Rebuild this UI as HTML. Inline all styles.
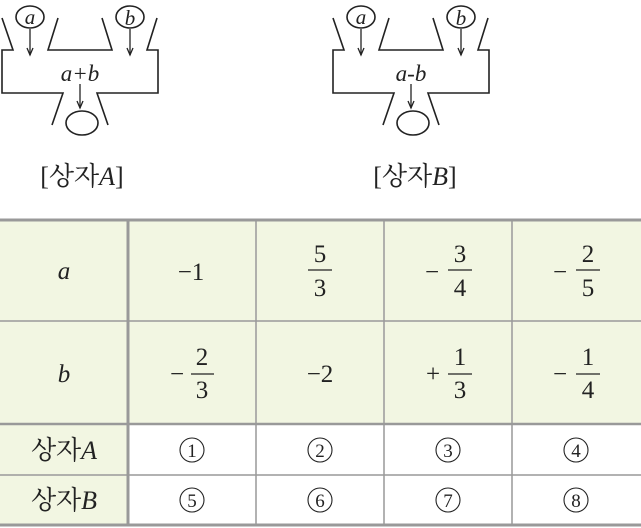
<!DOCTYPE html>
<html><head><meta charset="utf-8"><style>
html,body{margin:0;padding:0;background:#fff;}
svg{display:block;}
</style></head><body>
<svg width="641" height="528" viewBox="0 0 641 528" xmlns="http://www.w3.org/2000/svg" font-family="'Liberation Serif', 'Noto Serif CJK KR', serif" fill="#222">
<defs>
<g id="box" fill="none" stroke="#222" stroke-width="1.6">
<path d="M2,18 L13,50 L2,50 L2,93 L63,93 L52,125"/>
<path d="M58,18 L48,50 L112,50 L102,18"/>
<path d="M157,18 L147,50 L158,50 L158,93 L97,93 L108,125"/>
<ellipse cx="30" cy="17" rx="14" ry="11"/>
<ellipse cx="130" cy="17" rx="14" ry="11"/>
<ellipse cx="82" cy="123" rx="16" ry="12"/>
<g stroke-width="1.3">
<line x1="30" y1="29" x2="30" y2="55"/><path d="M27,48 L30,55 L33,48"/>
<line x1="130" y1="29" x2="130" y2="55"/><path d="M127,48 L130,55 L133,48"/>
<line x1="80" y1="84" x2="80" y2="108"/><path d="M77,101 L80,108 L83,101"/>
</g>
</g>
</defs>
<use href="#box"/>
<text x="30" y="24" font-size="21" font-style="italic" text-anchor="middle">a</text>
<text x="130" y="25" font-size="21" font-style="italic" text-anchor="middle">b</text>
<text x="80" y="81" font-size="23" font-style="italic" text-anchor="middle">a+b</text>
<text x="82" y="185" font-size="26" text-anchor="middle">[상자<tspan font-style="italic">A</tspan>]</text>
<g transform="translate(331,0)"><use href="#box"/>
<text x="30" y="24" font-size="21" font-style="italic" text-anchor="middle">a</text>
<text x="130" y="25" font-size="21" font-style="italic" text-anchor="middle">b</text>
<text x="80" y="81" font-size="23" font-style="italic" text-anchor="middle">a-b</text>
<text x="84" y="185" font-size="26" text-anchor="middle">[상자<tspan font-style="italic">B</tspan>]</text>
</g>
<rect x="0" y="220" width="641" height="204" fill="#f2f6e2"/>
<rect x="0" y="424" width="128" height="101" fill="#f2f6e2"/>
<g stroke="#999" stroke-width="1.5">
<line x1="0" y1="220" x2="641" y2="220" stroke-width="3"/>
<line x1="0" y1="525" x2="641" y2="525" stroke-width="3"/>
<line x1="0" y1="321" x2="641" y2="321"/>
<line x1="0" y1="424" x2="641" y2="424" stroke-width="2.5"/>
<line x1="0" y1="475" x2="641" y2="475"/>
<line x1="128" y1="220" x2="128" y2="525" stroke-width="3"/>
<line x1="256" y1="220" x2="256" y2="525"/>
<line x1="384" y1="220" x2="384" y2="525"/>
<line x1="512" y1="220" x2="512" y2="525"/>
</g>
<g font-size="25" text-anchor="middle">
<text x="64" y="279" font-style="italic">a</text>
<text x="64" y="382" font-style="italic">b</text>
<text x="64" y="459" font-size="26">상자<tspan font-style="italic">A</tspan></text>
<text x="64" y="509" font-size="26">상자<tspan font-style="italic">B</tspan></text>
<text x="191" y="280">−1</text>
<text x="320" y="262">5</text><text x="320" y="296">3</text>
<text x="432" y="280">−</text><text x="460" y="262">3</text><text x="460" y="296">4</text>
<text x="560" y="280">−</text><text x="588" y="262">2</text><text x="588" y="296">5</text>
<text x="177" y="382">−</text><text x="202" y="365">2</text><text x="202" y="398">3</text>
<text x="320" y="382">−2</text>
<text x="433" y="382">+</text><text x="460" y="365">1</text><text x="460" y="398">3</text>
<text x="560" y="382">−</text><text x="588" y="365">1</text><text x="588" y="398">4</text>
</g>
<g stroke="#222" stroke-width="1.2">
<line x1="308" y1="270" x2="332" y2="270"/>
<line x1="448" y1="270" x2="472" y2="270"/>
<line x1="576" y1="270" x2="600" y2="270"/>
<line x1="191" y1="374" x2="214" y2="374"/>
<line x1="448" y1="374" x2="472" y2="374"/>
<line x1="576" y1="374" x2="600" y2="374"/>
</g>
<g fill="none" stroke="#222" stroke-width="1.1">
<circle cx="192" cy="450" r="12"/><circle cx="320" cy="450" r="12"/><circle cx="448" cy="450" r="12"/><circle cx="576" cy="450" r="12"/>
<circle cx="192" cy="500" r="12"/><circle cx="320" cy="500" r="12"/><circle cx="448" cy="500" r="12"/><circle cx="576" cy="500" r="12"/>
</g>
<g font-size="19" text-anchor="middle">
<text x="192" y="457">1</text><text x="320" y="457">2</text><text x="448" y="457">3</text><text x="576" y="457">4</text>
<text x="192" y="507">5</text><text x="320" y="507">6</text><text x="448" y="507">7</text><text x="576" y="507">8</text>
</g>
</svg>
</body></html>
